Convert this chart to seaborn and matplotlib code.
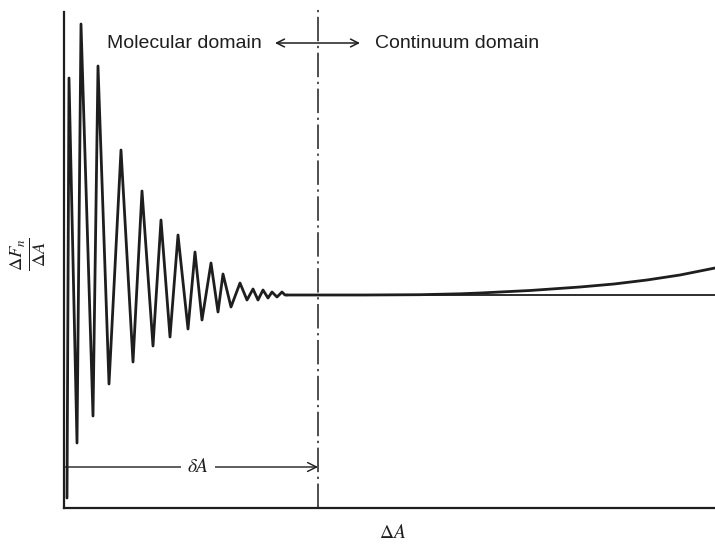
import matplotlib
matplotlib.use("Agg")
import matplotlib.pyplot as plt
import numpy as np
import pandas as pd
import seaborn as sns

# values (x from the left axis, y from the flat asymptote)
osc_x = [3, 5, 13, 17, 29, 34, 45, 57, 69, 78, 89, 97, 106, 114, 124, 131,
         138, 147, 154, 159, 167, 176, 183, 189, 194, 199, 204, 208, 213, 218, 221, 223]
osc_y = [-203, 217, -148, 271, -121, 229, -89, 145, -67, 104, -51, 75, -42, 60, -34, 43,
         -25, 32, -17, 21, -12, 12, -5, 6, -5, 5, -3, 3, -2, 3, 0, 0]

cont_x = [223, 300, 356, 396, 416, 466, 516, 550, 583, 616, 651]
cont_y = [0, 0, 0.3, 1.2, 2, 4.5, 8, 11, 15, 20, 27]

base_x = [223, 651]
base_y = [0, 0]

delta_A = 254          # position of the domain boundary
x_max, y_min, y_max = 651, -213, 287

sns.set_style("white")
plt.rcParams["font.family"] = ["Liberation Sans", "DejaVu Sans"]
plt.rcParams["mathtext.fontset"] = "stix"

ink = "#1e1e1e"

fig = plt.figure(figsize=(7.15, 5.45), dpi=100)
ax = fig.add_axes([64 / 715, 37 / 545, 651 / 715, 500 / 545])

df_osc = pd.DataFrame({"x": osc_x, "y": osc_y})
df_cont = pd.DataFrame({"x": cont_x, "y": cont_y})
df_base = pd.DataFrame({"x": base_x, "y": base_y})

sns.lineplot(data=df_osc, x="x", y="y", ax=ax, color=ink, lw=2.0,
             estimator=None, sort=False)
sns.lineplot(data=df_cont, x="x", y="y", ax=ax, color=ink, lw=2.0,
             estimator=None, sort=False)
sns.lineplot(data=df_base, x="x", y="y", ax=ax, color=ink, lw=1.3,
             estimator=None, sort=False)

# boundary between the two domains
ax.axvline(delta_A, color=ink, lw=1.1, ls=(0, (16, 3, 1.5, 3)))

ax.set_xlim(0, x_max)
ax.set_ylim(y_min, y_max)
ax.set_xticks([])
ax.set_yticks([])
ax.set_xlabel("")
ax.set_ylabel("")
for s in ["top", "right"]:
    ax.spines[s].set_visible(False)
for s in ["left", "bottom"]:
    ax.spines[s].set_color(ink)
    ax.spines[s].set_linewidth(1.6)
ax.spines["left"].set_bounds(y_min, 283)

# domain labels
ax.annotate("", xy=(296, 252), xytext=(211, 252),
            arrowprops=dict(arrowstyle="<->", color=ink, lw=1.1,
                            shrinkA=0, shrinkB=0, mutation_scale=14))
ax.text(198, 252, "Molecular domain", ha="right", va="center",
        fontsize=14, color=ink)
ax.text(311, 252, "Continuum domain", ha="left", va="center",
        fontsize=14, color=ink)

# delta A span
ax.annotate("", xy=(delta_A, -172), xytext=(0, -172),
            arrowprops=dict(arrowstyle="->", color=ink, lw=1.0,
                            shrinkA=0, shrinkB=0, mutation_scale=16))
ax.text(134, -172, r"$\delta A$", ha="center", va="center", fontsize=14,
        color=ink, bbox=dict(facecolor="white", edgecolor="none", pad=4))

# axis labels
ax.text(0.505, -0.05, r"$\Delta A$", transform=ax.transAxes,
        ha="center", va="center", fontsize=14, color=ink)
ax.text(-0.055, 0.508, r"$\frac{\Delta F_n}{\Delta A}$", transform=ax.transAxes,
        ha="center", va="center", rotation=90, fontsize=19, color=ink)

fig.savefig("out.png", dpi=100, facecolor="white")
